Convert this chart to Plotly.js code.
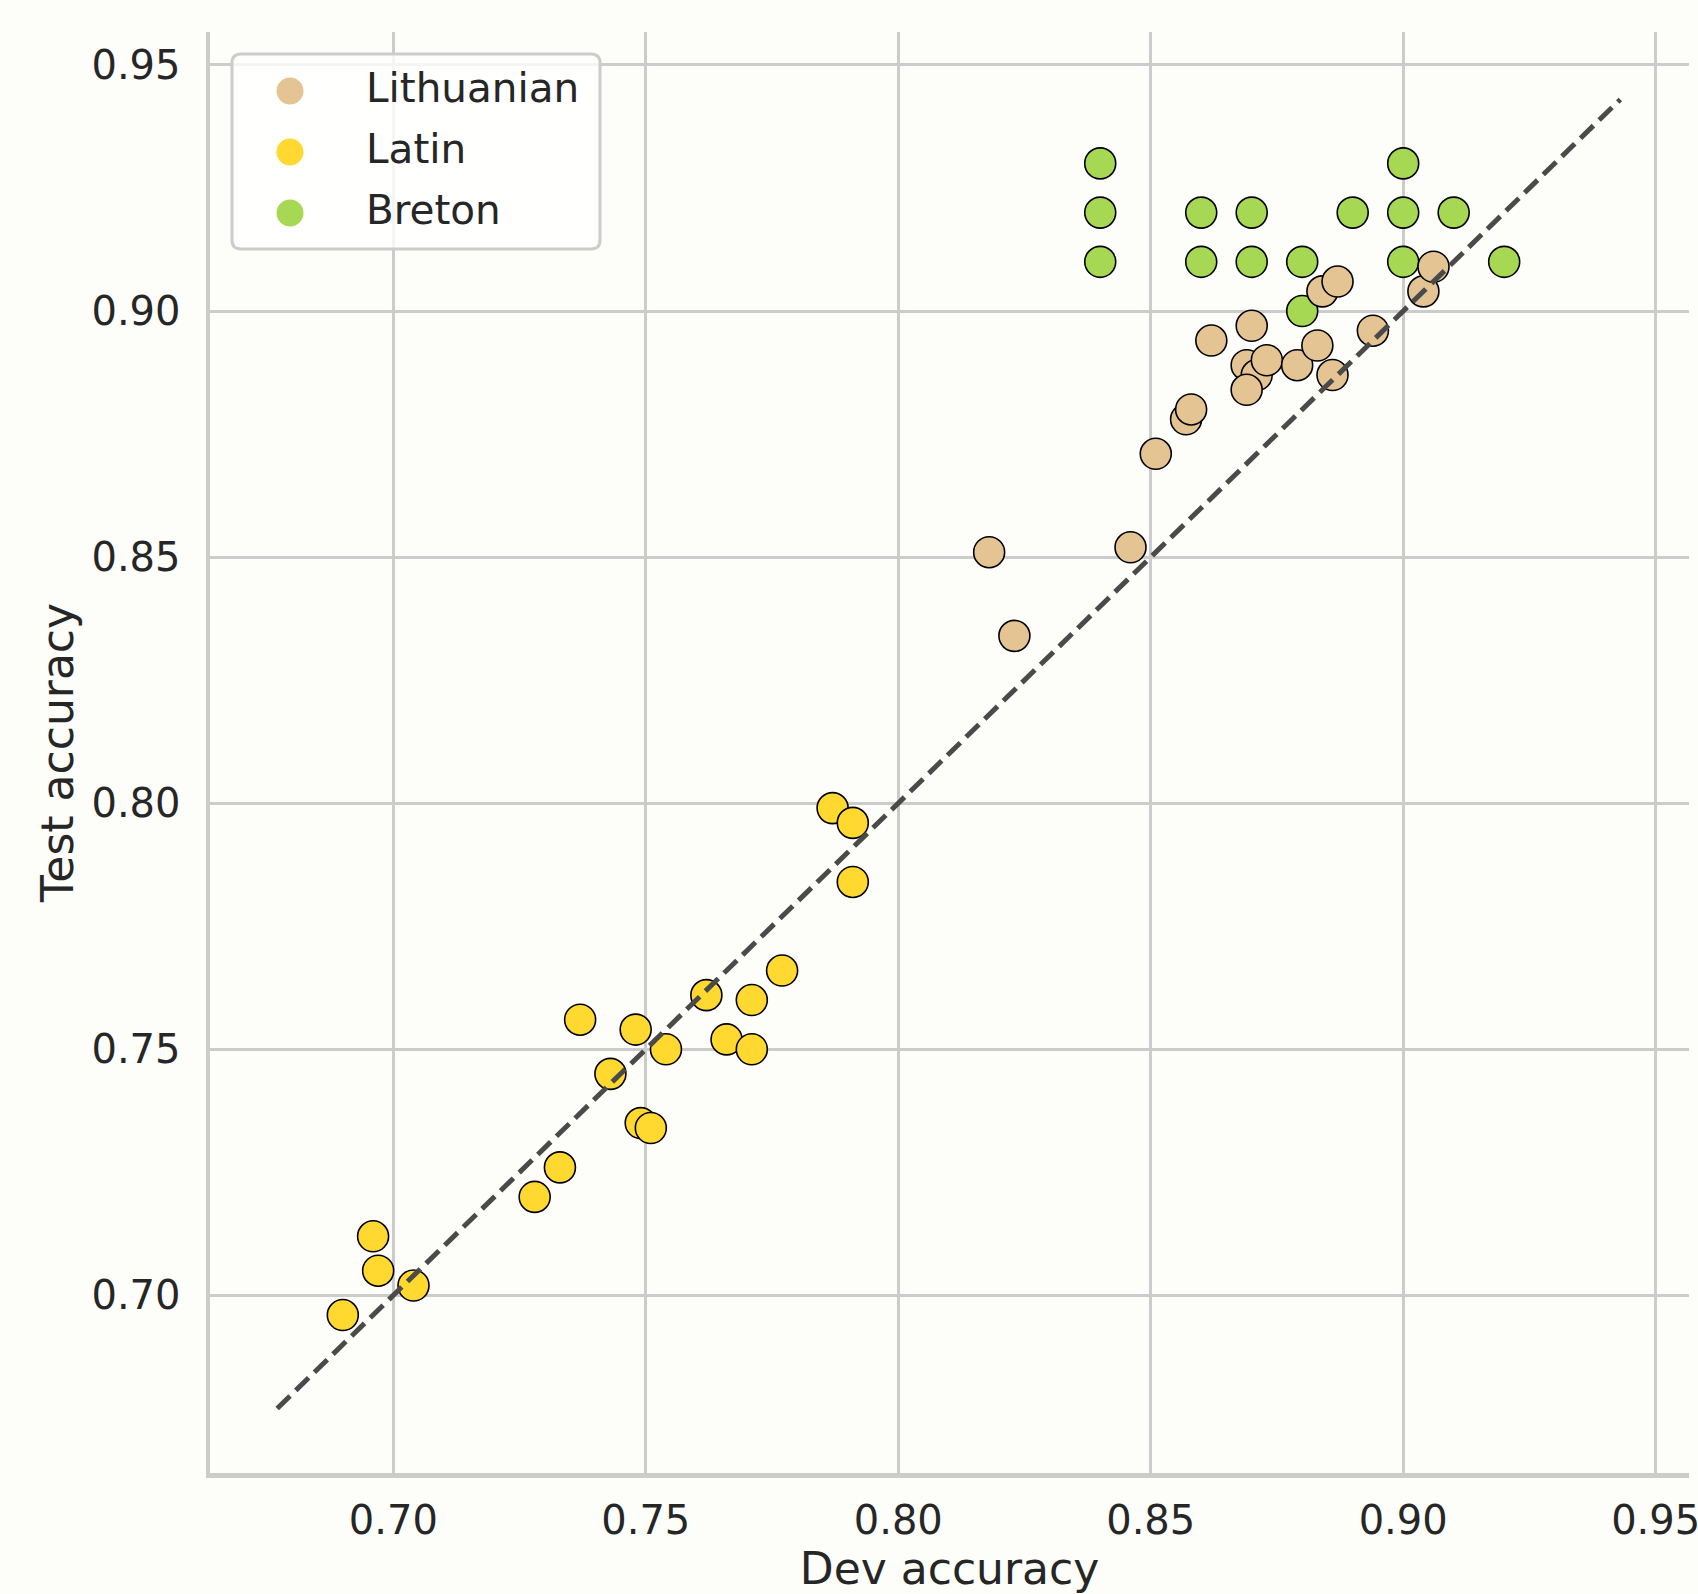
<!DOCTYPE html>
<html>
<head>
<meta charset="utf-8">
<script src="https://cdn.plot.ly/plotly-3.0.1.min.js"></script>
<style>html,body{margin:0;padding:0;background:#fdfdf9;}</style>
</head>
<body>
<div id="chart" style="width:1698px;height:1594px;"></div>
<script>
// ---- data ----
const seriesNames = ['Lithuanian', 'Latin', 'Breton'];

const lithuanianDev  = [0.818, 0.823, 0.846, 0.851, 0.857, 0.858, 0.862, 0.870, 0.869, 0.871, 0.873, 0.869, 0.879, 0.883, 0.886, 0.884, 0.887, 0.894, 0.904, 0.906];
const lithuanianTest = [0.851, 0.834, 0.852, 0.871, 0.878, 0.880, 0.894, 0.897, 0.889, 0.887, 0.890, 0.884, 0.889, 0.893, 0.887, 0.904, 0.906, 0.896, 0.904, 0.909];

const latinDev  = [0.690, 0.696, 0.697, 0.704, 0.728, 0.733, 0.737, 0.743, 0.748, 0.749, 0.751, 0.754, 0.762, 0.766, 0.771, 0.771, 0.777, 0.787, 0.791, 0.791];
const latinTest = [0.696, 0.712, 0.705, 0.702, 0.720, 0.726, 0.756, 0.745, 0.754, 0.735, 0.734, 0.750, 0.761, 0.752, 0.760, 0.750, 0.766, 0.799, 0.796, 0.784];

const bretonDev  = [0.84, 0.84, 0.84, 0.86, 0.86, 0.87, 0.87, 0.88, 0.88, 0.89, 0.90, 0.90, 0.90, 0.91, 0.92];
const bretonTest = [0.93, 0.92, 0.91, 0.92, 0.91, 0.92, 0.91, 0.91, 0.90, 0.92, 0.93, 0.92, 0.91, 0.92, 0.91];

const diagLimits = [0.677, 0.943];

const xTicks = [0.70, 0.75, 0.80, 0.85, 0.90, 0.95];
const xTickLabels = ['0.70', '0.75', '0.80', '0.85', '0.90', '0.95'];
const yTicks = [0.70, 0.75, 0.80, 0.85, 0.90, 0.95];
const yTickLabels = ['0.70', '0.75', '0.80', '0.85', '0.90', '0.95'];

const xTitle = 'Dev accuracy';
const yTitle = 'Test accuracy';

// ---- style ----
const seriesColors = ['#e5c494', '#ffd92f', '#a6d854'];
const bg = '#fdfdf9';
const textColor = '#262626';
const gridColor = '#cccccc';

function pts(name, xs, ys, color) {
  return {
    type: 'scatter', mode: 'markers', name: name, x: xs, y: ys,
    showlegend: false, hoverinfo: 'x+y+name',
    marker: {size: 31, color: color, line: {color: '#000000', width: 1.6}}
  };
}

const traces = [
  pts(seriesNames[1], latinDev, latinTest, seriesColors[1]),
  pts(seriesNames[2], bretonDev, bretonTest, seriesColors[2]),
  pts(seriesNames[0], lithuanianDev, lithuanianTest, seriesColors[0]),
  {
    type: 'scatter', mode: 'lines', x: diagLimits, y: diagLimits,
    showlegend: false, hoverinfo: 'skip',
    line: {color: '#4a4a4a', width: 5, dash: '18px,8px'}
  }
];

// ---- custom legend (pixel offsets relative to plot top-left) ----
const plotW = 1698 - 210 - 9;
const plotH = 1594 - 32 - 121;
const shapes = [];
const annotations = [];
const bx0 = 22, bx1 = 390, by0 = -22, by1 = -217, r = 9;
shapes.push({
  type: 'path', xref: 'paper', yref: 'paper', xsizemode: 'pixel', ysizemode: 'pixel',
  xanchor: 0, yanchor: 1,
  path: `M${bx0 + r},${by0} L${bx1 - r},${by0} Q${bx1},${by0} ${bx1},${by0 - r} L${bx1},${by1 + r} Q${bx1},${by1} ${bx1 - r},${by1} L${bx0 + r},${by1} Q${bx0},${by1} ${bx0},${by1 + r} L${bx0},${by0 - r} Q${bx0},${by0} ${bx0 + r},${by0} Z`,
  fillcolor: 'rgba(255,255,255,0.8)', line: {color: gridColor, width: 3}, layer: 'above'
});
seriesNames.forEach((nm, i) => {
  const cy = -59 - 61 * i;
  const cx = 80;
  const rad = 13.5;
  shapes.push({
    type: 'circle', xref: 'paper', yref: 'paper', xsizemode: 'pixel', ysizemode: 'pixel',
    xanchor: 0, yanchor: 1, x0: cx - rad, x1: cx + rad, y0: cy - rad, y1: cy + rad,
    fillcolor: seriesColors[i], line: {width: 0}, layer: 'above'
  });
  annotations.push({
    xref: 'paper', yref: 'paper', x: (364 - 210) / plotW, y: 1 + (cy + 3) / plotH,
    xanchor: 'left', yanchor: 'middle', showarrow: false, text: nm,
    font: {family: 'DejaVu Sans', size: 40.5, color: textColor}
  });
});

const axisCommon = {
  showgrid: true, gridcolor: gridColor, gridwidth: 3,
  showline: true, linecolor: gridColor, linewidth: 4.5,
  zeroline: false, ticks: 'outside', tickcolor: 'rgba(0,0,0,0)',
  tickfont: {family: 'DejaVu Sans', size: 40, color: textColor},
  ticklabeloverflow: 'allow',
  automargin: false
};

const layout = {
  width: 1698, height: 1594,
  margin: {l: 210, r: 9, t: 32, b: 121, pad: 0},
  paper_bgcolor: bg, plot_bgcolor: bg,
  font: {family: 'DejaVu Sans', color: textColor},
  showlegend: false,
  xaxis: Object.assign({}, axisCommon, {
    range: [0.6637, 0.9566], tickvals: xTicks, ticktext: xTickLabels, ticklen: 8,
    title: {text: xTitle, font: {family: 'DejaVu Sans', size: 44, color: textColor}, standoff: 28}
  }),
  yaxis: Object.assign({}, axisCommon, {
    range: [0.6639, 0.9567], tickvals: yTicks, ticktext: yTickLabels, ticklen: 17,
    title: {text: yTitle, font: {family: 'DejaVu Sans', size: 44, color: textColor}, standoff: 5}
  }),
  shapes: shapes,
  annotations: annotations
};

Plotly.newPlot('chart', traces, layout, {displayModeBar: false, staticPlot: true});
</script>
</body>
</html>
